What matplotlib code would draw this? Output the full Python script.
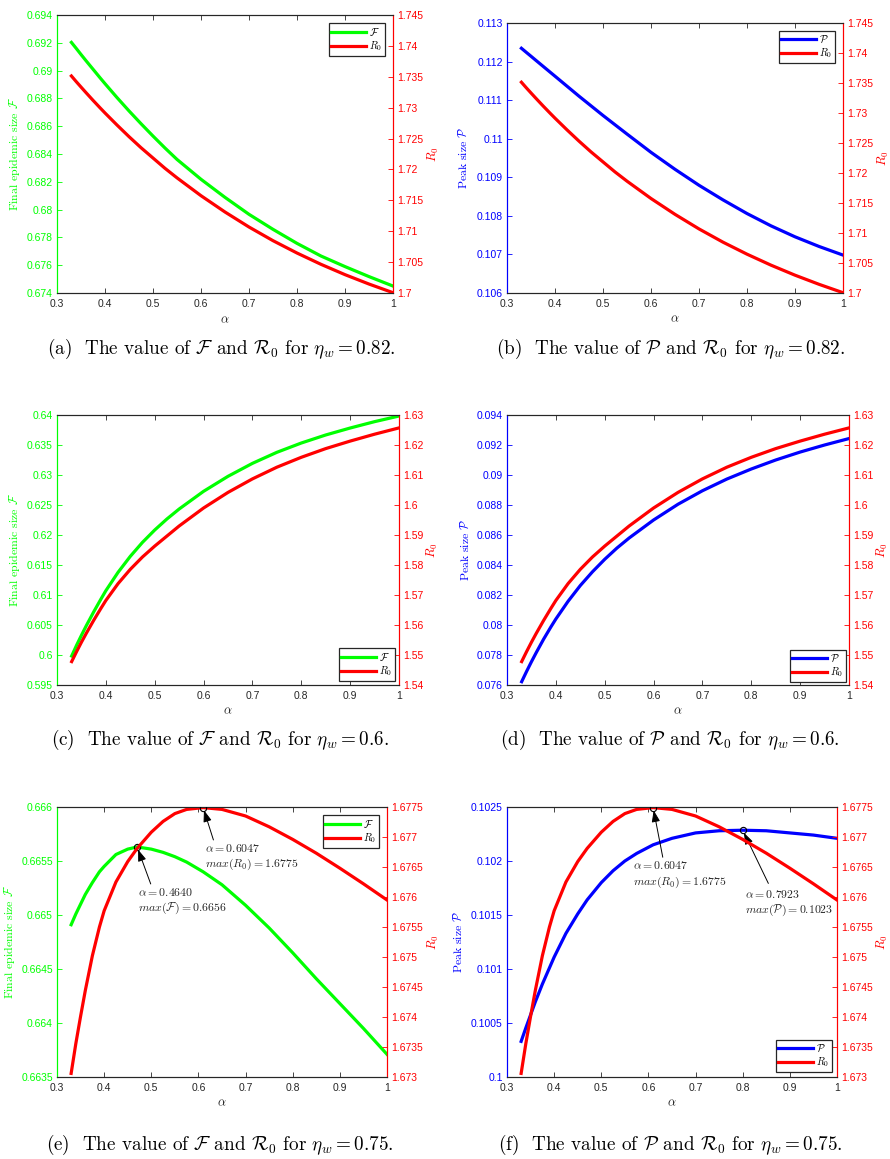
import numpy as np
import matplotlib
matplotlib.use("Agg")
import matplotlib.pyplot as plt
from matplotlib.ticker import FuncFormatter

plt.rcParams['mathtext.fontset'] = 'cm'
plt.rcParams['font.family'] = ['Liberation Sans', 'DejaVu Sans']

# alpha values at which the curves were read (rows a-d, and row e-f)
ALPHA_TOP = [0.33, 0.34, 0.35, 0.36, 0.375, 0.39, 0.4, 0.425, 0.45, 0.475, 0.5, 0.525,
             0.55, 0.6, 0.65, 0.7, 0.75, 0.8, 0.85, 0.9, 0.95, 1.0]
ALPHA_BOT = [0.33, 0.34, 0.35, 0.36, 0.375, 0.39, 0.4, 0.425, 0.45, 0.47, 0.5, 0.525,
             0.55, 0.575, 0.61, 0.65, 0.7, 0.75, 0.8, 0.85, 0.9, 0.95, 1.0]

# eta_w = 0.82
F_082 = [0.69203, 0.69160, 0.69116, 0.69073, 0.69010, 0.68947, 0.68906, 0.68806, 0.68710,
         0.68618, 0.68529, 0.68443, 0.68361, 0.68218, 0.68088, 0.67966, 0.67858, 0.67757,
         0.67666, 0.67590, 0.67518, 0.67450]
P_082 = [0.112345, 0.112241, 0.112138, 0.112034, 0.111879, 0.111724, 0.111621, 0.111362,
         0.111103, 0.110853, 0.110603, 0.110362, 0.110121, 0.109647, 0.109207, 0.108793,
         0.108414, 0.108060, 0.107741, 0.107457, 0.107207, 0.106983]
R0_082 = [1.73513, 1.73422, 1.73334, 1.73247, 1.73119, 1.72995, 1.72914, 1.72719, 1.72531,
          1.72352, 1.72185, 1.72018, 1.71864, 1.71575, 1.71311, 1.71068, 1.70847, 1.70647,
          1.70464, 1.70297, 1.70145, 1.70005]

# eta_w = 0.6
F_06 = [0.59983, 0.60161, 0.60328, 0.60489, 0.60717, 0.60933, 0.61072, 0.61378, 0.61644,
        0.61878, 0.62083, 0.62267, 0.62433, 0.62728, 0.62978, 0.63194, 0.63378, 0.63533,
        0.63667, 0.63783, 0.63889, 0.63983]
P_06 = [0.07622, 0.07690, 0.07755, 0.07817, 0.07906, 0.07988, 0.08040, 0.08158, 0.08263,
        0.08355, 0.08438, 0.08513, 0.08580, 0.08700, 0.08805, 0.08895, 0.08973, 0.09040,
        0.09100, 0.09153, 0.09200, 0.09243]
R0_06 = [1.5478, 1.5511, 1.55425, 1.55725, 1.56153, 1.56558, 1.56818, 1.5738, 1.57855,
         1.58268, 1.5863, 1.58965, 1.5930, 1.5990, 1.6042, 1.6087, 1.6126, 1.6159,
         1.6188, 1.6213, 1.6236, 1.6257]

# eta_w = 0.75
F_075 = [0.66491, 0.66501, 0.66510, 0.66519, 0.66530, 0.66540, 0.66545, 0.66556, 0.66561,
         0.66563, 0.66561, 0.66558, 0.66554, 0.66549, 0.66540, 0.66528, 0.66509, 0.66488,
         0.66465, 0.66441, 0.66418, 0.66395, 0.66371]
P_075 = [0.10033, 0.100455, 0.100575, 0.100695, 0.10086, 0.10101, 0.10111, 0.10133,
         0.10151, 0.10164, 0.10180, 0.10191, 0.10200, 0.10207, 0.10215, 0.10221, 0.10226,
         0.10228, 0.102285, 0.10228, 0.10226, 0.10224, 0.10221]
R0_075 = [1.67306, 1.67356, 1.67401, 1.67444, 1.67502, 1.67550, 1.67577, 1.67625, 1.67659,
          1.67681, 1.67708, 1.67726, 1.67739, 1.67746, 1.67749, 1.67746, 1.67735, 1.67717,
          1.67696, 1.67673, 1.67648, 1.67622, 1.67595]

GRAY = '#262626'
GREEN = '#00ff00'
BLUE = '#0000ff'
RED = '#ff0000'
W, H = 890, 1159

fig = plt.figure(figsize=(W / 100, H / 100), dpi=100)
fmt = FuncFormatter(lambda v, p: f'{v:g}')


def rect(l, r, t, b):
    return [l / W, 1 - b / H, (r - l) / W, (b - t) / H]


def panel(box, alpha, vals, col, ylabel, leg_name, ylim, ystep, r0, r0lim, r0step,
          loc, leg_pad, ylab_x, r0lab_x):
    ax = fig.add_axes(box)
    ax2 = ax.twinx()
    l1, = ax.plot(alpha, vals, color=col, lw=2.3)
    l2, = ax2.plot(alpha, r0, color=RED, lw=2.3)

    ax.set_xlim(0.3, 1)
    ax.set_xticks(np.arange(0.3, 1.001, 0.1))
    ax.xaxis.set_major_formatter(fmt)
    ax.set_ylim(*ylim)
    ax.set_yticks(np.arange(ylim[0], ylim[1] + ystep / 2, ystep))
    ax.yaxis.set_major_formatter(fmt)
    ax2.set_ylim(*r0lim)
    ax2.set_yticks(np.arange(r0lim[0], r0lim[1] + r0step / 2, r0step))
    ax2.yaxis.set_major_formatter(fmt)

    ax.tick_params(axis='x', colors=GRAY, direction='in', top=True, length=3.5,
                   width=0.6, labelsize=7.5, pad=4)
    ax.tick_params(axis='y', colors=col, direction='in', length=3.5, width=0.6,
                   labelsize=7.5, pad=3)
    ax2.tick_params(axis='y', colors=RED, direction='in', length=3.5, width=0.6,
                    labelsize=7.5, pad=3)
    for a in (ax, ax2):
        a.spines['top'].set_color(GRAY)
        a.spines['bottom'].set_color(GRAY)
        a.spines['left'].set_color(col)
        a.spines['right'].set_color(RED)
        for s in a.spines.values():
            s.set_linewidth(0.8)

    ax.set_xlabel(r'$\alpha$', color=GRAY, fontsize=9)
    ax.xaxis.set_label_coords(0.5, -0.075)
    ax.set_ylabel(ylabel, color=col, fontsize=8.5, family='cmr10', va='center')
    ax.yaxis.set_label_coords(ylab_x, 0.5)
    ax2.set_ylabel(r'$R_0$', color=RED, fontsize=9, rotation=90, va='center')
    ax2.yaxis.set_label_coords(r0lab_x, 0.5)

    leg = ax2.legend([l1, l2], [leg_name, r'$R_0$'], loc=loc, fontsize=7.5,
                     handlelength=3.3, handletextpad=0.3, labelspacing=0.15,
                     borderpad=0.25, borderaxespad=leg_pad, fancybox=False,
                     framealpha=1, edgecolor=GRAY)
    leg.get_frame().set_linewidth(0.9)
    return ax, ax2


def mark_peak(a, alpha, vals, label, text_xy, tail_xy):
    i = int(np.argmax(vals))
    a.plot(alpha[i], vals[i], 'o', mfc='none', mec='k', ms=4.5, mew=0.8, zorder=5)
    a.annotate('', xy=(alpha[i], vals[i]), xytext=tail_xy, textcoords='axes fraction',
               arrowprops=dict(arrowstyle='-|>,head_length=0.7,head_width=0.25',
                               color='k', lw=0.7, shrinkA=0, shrinkB=2))
    a.text(text_xy[0], text_xy[1], label, transform=a.transAxes, ha='left', va='top',
           fontsize=8.5, color=GRAY, linespacing=1.25)


F_LAB = r'Final epidemic size $\mathcal{F}$'
P_LAB = r'Peak size $\mathcal{P}$'

panel(rect(57, 393, 15, 293), ALPHA_TOP, F_082, GREEN, F_LAB, r'$\mathcal{F}$',
      (0.674, 0.694), 0.002, R0_082, (1.7, 1.745), 0.005, 'upper right', 0.8, -0.125, 1.119)
panel(rect(507, 843, 23, 293), ALPHA_TOP, P_082, BLUE, P_LAB, r'$\mathcal{P}$',
      (0.106, 0.113), 0.001, R0_082, (1.7, 1.745), 0.005, 'upper right', 0.8, -0.131, 1.119)
panel(rect(57, 399, 415, 685), ALPHA_TOP, F_06, GREEN, F_LAB, r'$\mathcal{F}$',
      (0.595, 0.64), 0.005, R0_06, (1.54, 1.63), 0.01, 'lower right', 0.4, -0.123, 1.099)
panel(rect(507, 849, 415, 685), ALPHA_TOP, P_06, BLUE, P_LAB, r'$\mathcal{P}$',
      (0.076, 0.094), 0.002, R0_06, (1.54, 1.63), 0.01, 'lower right', 0.3, -0.123, 1.099)
axe, axe2 = panel(rect(57, 387, 807, 1077), ALPHA_BOT, F_075, GREEN, F_LAB, r'$\mathcal{F}$',
                  (0.6635, 0.666), 0.0005, R0_075, (1.673, 1.6775), 0.0005, 'upper right',
                  0.8, -0.145, 1.142)
axf, axf2 = panel(rect(507, 837, 807, 1077), ALPHA_BOT, P_075, BLUE, P_LAB, r'$\mathcal{P}$',
                  (0.1, 0.1025), 0.0005, R0_075, (1.673, 1.6775), 0.0005, 'lower right',
                  0.5, -0.148, 1.139)

mark_peak(axe, ALPHA_BOT, F_075, '$\\alpha = 0.4640$\n$max(\\mathcal{F}) = 0.6656$',
          (0.246, 0.705), (0.284, 0.715))
mark_peak(axe2, ALPHA_BOT, R0_075, '$\\alpha = 0.6047$\n$max(R_0) = 1.6775$',
          (0.448, 0.868), (0.474, 0.878))
mark_peak(axf2, ALPHA_BOT, R0_075, '$\\alpha = 0.6047$\n$max(R_0) = 1.6775$',
          (0.381, 0.802), (0.472, 0.814))
mark_peak(axf, ALPHA_BOT, P_075, '$\\alpha = 0.7923$\n$max(\\mathcal{P}) = 0.1023$',
          (0.721, 0.698), (0.792, 0.717))

captions = [
    (221, 349, r'(a)  The value of $\mathcal{F}$ and $\mathcal{R}_0$ for $\eta_w = 0.82$.'),
    (671, 349, r'(b)  The value of $\mathcal{P}$ and $\mathcal{R}_0$ for $\eta_w = 0.82$.'),
    (220, 740, r'(c)  The value of $\mathcal{F}$ and $\mathcal{R}_0$ for $\eta_w = 0.6$.'),
    (670, 740, r'(d)  The value of $\mathcal{P}$ and $\mathcal{R}_0$ for $\eta_w = 0.6$.'),
    (220, 1145, r'(e)  The value of $\mathcal{F}$ and $\mathcal{R}_0$ for $\eta_w = 0.75$.'),
    (670, 1145, r'(f)  The value of $\mathcal{P}$ and $\mathcal{R}_0$ for $\eta_w = 0.75$.'),
]
for cx, cy, txt in captions:
    fig.text(cx / W, 1 - cy / H, txt, ha='center', va='center', fontsize=13.8,
             family='cmr10', color='k')

fig.savefig('out.png', dpi=100)
